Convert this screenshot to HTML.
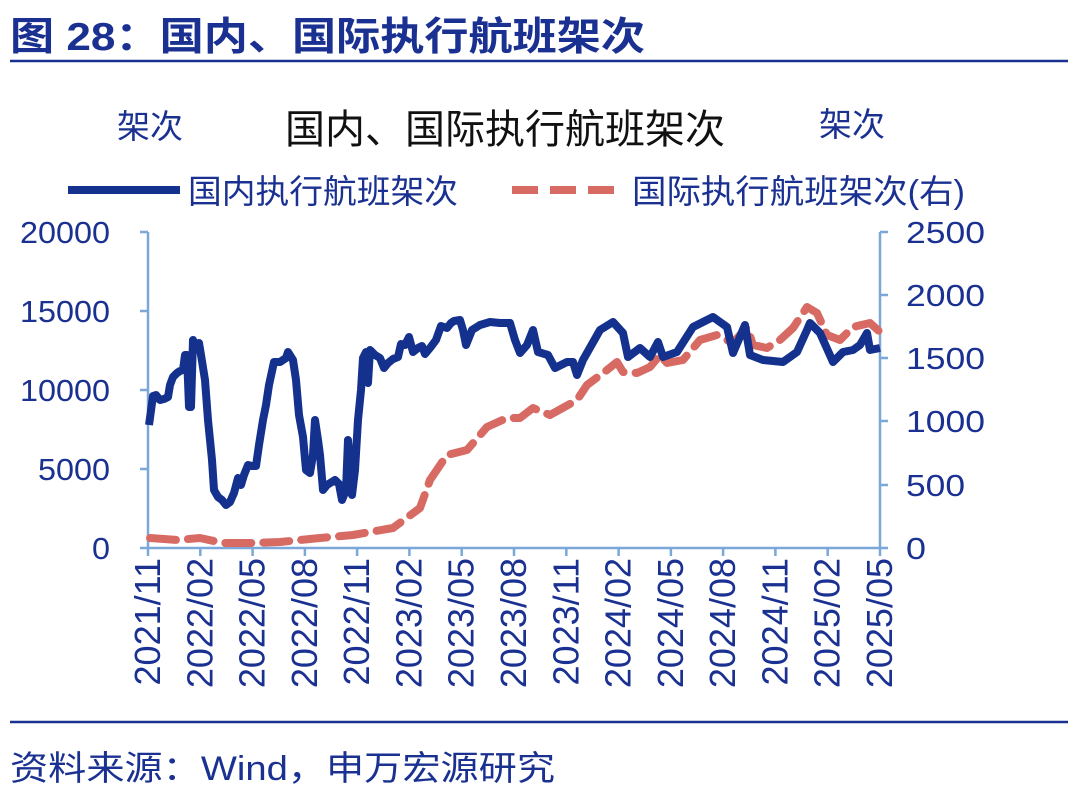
<!DOCTYPE html>
<html><head><meta charset="utf-8"><style>
body{margin:0;background:#fff;}
svg text{font-family:"Liberation Sans","Noto Sans CJK SC",sans-serif;}
</style></head><body>
<svg width="1080" height="798" viewBox="0 0 1080 798" xmlns="http://www.w3.org/2000/svg">
<text x="10" y="50" font-size="39" font-weight="bold" fill="#1a3192" textLength="635" lengthAdjust="spacingAndGlyphs">图 28：国内、国际执行航班架次</text>
<line x1="10" y1="61" x2="1068" y2="61" stroke="#1a3192" stroke-width="2.5"/>
<text x="150" y="138" font-size="33" fill="#1a3192" text-anchor="middle">架次</text>
<text x="852" y="136" font-size="33" fill="#1a3192" text-anchor="middle">架次</text>
<text x="505" y="143" font-size="40" fill="#111" text-anchor="middle">国内、国际执行航班架次</text>
<line x1="68" y1="190" x2="180" y2="190" stroke="#13318d" stroke-width="8"/>
<text x="188" y="203" font-size="33" fill="#1a3192" textLength="270" lengthAdjust="spacingAndGlyphs">国内执行航班架次</text>
<line x1="512" y1="190" x2="625" y2="190" stroke="#d86a64" stroke-width="8" stroke-dasharray="26 12"/>
<text x="632" y="203" font-size="33" fill="#1a3192" textLength="333" lengthAdjust="spacingAndGlyphs">国际执行航班架次(右)</text>
<g stroke="#7ba7d9" stroke-width="2.5">
<line x1="148" y1="232" x2="148" y2="548"/>
<line x1="880" y1="232" x2="880" y2="548"/>
<line x1="148" y1="548" x2="880" y2="548"/>
<line x1="140" y1="232" x2="148" y2="232"/><line x1="140" y1="311" x2="148" y2="311"/><line x1="140" y1="390" x2="148" y2="390"/><line x1="140" y1="469" x2="148" y2="469"/><line x1="140" y1="548" x2="148" y2="548"/>
<line x1="880" y1="232" x2="888" y2="232"/><line x1="880" y1="295" x2="888" y2="295"/><line x1="880" y1="358" x2="888" y2="358"/><line x1="880" y1="421" x2="888" y2="421"/><line x1="880" y1="485" x2="888" y2="485"/><line x1="880" y1="548" x2="888" y2="548"/>
<line x1="148" y1="548" x2="148" y2="556"/><line x1="200.3" y1="548" x2="200.3" y2="556"/><line x1="252.6" y1="548" x2="252.6" y2="556"/><line x1="304.9" y1="548" x2="304.9" y2="556"/><line x1="357.1" y1="548" x2="357.1" y2="556"/><line x1="409.4" y1="548" x2="409.4" y2="556"/><line x1="461.7" y1="548" x2="461.7" y2="556"/><line x1="514" y1="548" x2="514" y2="556"/><line x1="566.3" y1="548" x2="566.3" y2="556"/><line x1="618.6" y1="548" x2="618.6" y2="556"/><line x1="670.9" y1="548" x2="670.9" y2="556"/><line x1="723.1" y1="548" x2="723.1" y2="556"/><line x1="775.4" y1="548" x2="775.4" y2="556"/><line x1="827.7" y1="548" x2="827.7" y2="556"/><line x1="880" y1="548" x2="880" y2="556"/>
</g>
<g font-size="31" fill="#1a3192">
<text x="20" y="243" textLength="90" lengthAdjust="spacingAndGlyphs">20000</text>
<text x="20" y="322" textLength="90" lengthAdjust="spacingAndGlyphs">15000</text>
<text x="20" y="401" textLength="90" lengthAdjust="spacingAndGlyphs">10000</text>
<text x="38" y="480" textLength="72" lengthAdjust="spacingAndGlyphs">5000</text>
<text x="92" y="559" textLength="18" lengthAdjust="spacingAndGlyphs">0</text>
</g>
<g font-size="31" fill="#1a3192">
<text x="906" y="243" textLength="79" lengthAdjust="spacingAndGlyphs">2500</text>
<text x="906" y="306" textLength="79" lengthAdjust="spacingAndGlyphs">2000</text>
<text x="906" y="369" textLength="79" lengthAdjust="spacingAndGlyphs">1500</text>
<text x="906" y="432" textLength="79" lengthAdjust="spacingAndGlyphs">1000</text>
<text x="906" y="496" textLength="59" lengthAdjust="spacingAndGlyphs">500</text>
<text x="906" y="559" textLength="20" lengthAdjust="spacingAndGlyphs">0</text>
</g>
<g font-size="36" fill="#1a3192" text-anchor="end">
<text transform="translate(160,558) rotate(-90)">2021/11</text>
<text transform="translate(212.3,558) rotate(-90)">2022/02</text>
<text transform="translate(264.6,558) rotate(-90)">2022/05</text>
<text transform="translate(316.9,558) rotate(-90)">2022/08</text>
<text transform="translate(369.1,558) rotate(-90)">2022/11</text>
<text transform="translate(421.4,558) rotate(-90)">2023/02</text>
<text transform="translate(473.7,558) rotate(-90)">2023/05</text>
<text transform="translate(526,558) rotate(-90)">2023/08</text>
<text transform="translate(578.3,558) rotate(-90)">2023/11</text>
<text transform="translate(630.6,558) rotate(-90)">2024/02</text>
<text transform="translate(682.9,558) rotate(-90)">2024/05</text>
<text transform="translate(735.1,558) rotate(-90)">2024/08</text>
<text transform="translate(787.4,558) rotate(-90)">2024/11</text>
<text transform="translate(839.7,558) rotate(-90)">2025/02</text>
<text transform="translate(892,558) rotate(-90)">2025/05</text>
</g>
<polyline fill="none" stroke="#d86a64" stroke-width="8" stroke-dasharray="26 12" stroke-linejoin="round" stroke-linecap="round" points="150,538 177,540 200,538 223,543 253,543 280,542 320,538 353,535 393,528 420,508 430,480 447,455 467,450 487,427 507,418 520,418 533,408 550,415 577,400 587,385 607,370 617,362 623,372 637,373 650,367 660,355 667,363 683,360 700,340 717,335 733,343 747,327 753,345 767,348 780,340 793,328 807,307 817,313 827,335 840,340 853,327 870,323 880,332"/>
<polyline fill="none" stroke="#13318d" stroke-width="8" stroke-linejoin="round" points="149,425 153,396 156,395 160,400 164,399 168,397 170,385 173,377 177,373 180,371 183,370 185,355 187,355 189,407 191,407 193,340 195,345 197,345 199,343 201,355 205,380 208,420 212,460 214,490 218,497 222,500 226,505 230,502 234,493 238,478 241,485 244,475 248,465 252,466 256,466 259,445 263,420 266,405 269,385 274,362 280,362 286,358 288,352 293,360 296,380 299,415 303,437 306,470 310,473 313,455 315,420 318,440 320,455 323,490 327,485 335,480 339,484 342,500 346,490 348,440 352,495 355,470 358,420 361,390 363,358 366,352 368,383 370,350 375,355 380,358 384,368 388,363 393,359 398,357 401,344 405,345 409,337 413,352 418,348 422,346 425,354 430,348 436,340 441,326 447,328 451,323 454,321 460,320 463,330 466,345 472,330 480,325 490,322 500,323 510,323 515,340 520,353 527,345 533,330 538,352 548,355 555,368 567,362 573,362 577,375 583,360 600,330 613,322 623,333 628,357 640,348 650,357 658,342 663,357 677,352 693,327 713,317 727,327 733,353 745,325 750,355 763,360 783,362 797,352 807,330 810,323 820,333 833,362 843,352 853,350 860,345 867,333 870,350 880,348"/>
<line x1="10" y1="722" x2="1068" y2="722" stroke="#1a3192" stroke-width="2.5"/>
<text x="10" y="780" font-size="34" fill="#1a3192" textLength="545" lengthAdjust="spacingAndGlyphs">资料来源：Wind，申万宏源研究</text>
</svg>
</body></html>
